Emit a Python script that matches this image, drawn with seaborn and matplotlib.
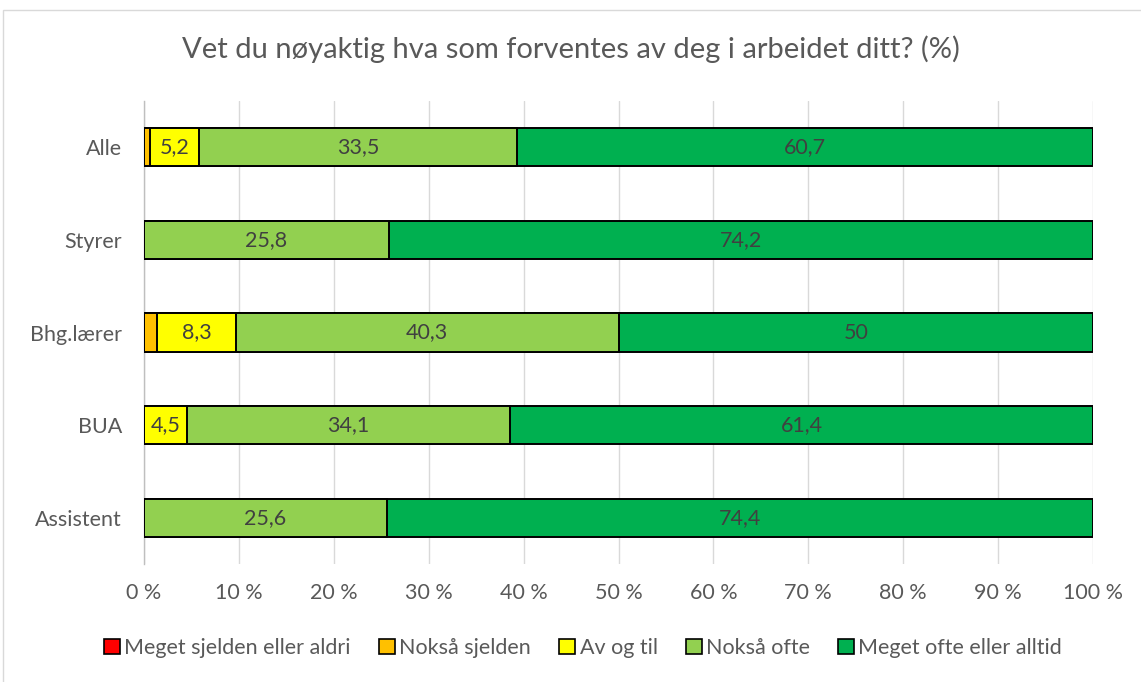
import matplotlib
matplotlib.use("Agg")
import matplotlib.pyplot as plt
import seaborn as sns
import pandas as pd
import numpy as np
from matplotlib.patches import Patch

categories = ["Alle", "Styrer", "Bhg.lærer", "BUA", "Assistent"]
series_names = ["Meget sjelden eller aldri", "Nokså sjelden", "Av og til", "Nokså ofte", "Meget ofte eller alltid"]
meget_sjelden = [0.0, 0.0, 0.0, 0.0, 0.0]
noksa_sjelden = [0.6, 0.0, 1.4, 0.0, 0.0]
av_og_til = [5.2, 0.0, 8.3, 4.5, 0.0]
noksa_ofte = [33.5, 25.8, 40.3, 34.1, 25.6]
meget_ofte = [60.7, 74.2, 50.0, 61.4, 74.4]
label_series = [False, False, True, True, True]
colors = ["#FF0000", "#FFC000", "#FFFF00", "#92D050", "#00B050"]

series = [meget_sjelden, noksa_sjelden, av_og_til, noksa_ofte, meget_ofte]

sns.set_theme(style="white")
plt.rcParams['font.family'] = ['Lato', 'DejaVu Sans']

fig = plt.figure(figsize=(11.41, 6.82), dpi=100)
ax = fig.add_axes([0.1262, 0.1723, 0.8318, 0.6803])

vals = np.array(series)  # shape (5 series, 5 cats)
cum = np.cumsum(vals, axis=0)

# draw from largest cumulative to smallest so boundaries show
for i in range(len(series) - 1, -1, -1):
    df = pd.DataFrame({"cat": categories, "val": cum[i]})
    sns.barplot(data=df, y="cat", x="val", order=categories, color=colors[i],
                width=0.41, edgecolor="black", linewidth=1.4, ax=ax, saturation=1,
                zorder=3)

# labels
for i, s in enumerate(series):
    if not label_series[i]:
        continue
    for j, v in enumerate(s):
        if v <= 0:
            continue
        left = cum[i][j] - v
        txt = f"{v:g}".replace(".", ",")
        ax.text(left + v / 2, j, txt, ha="center", va="center",
                fontsize=15.5, color="#404040", zorder=5)

ax.set_xlim(0, 100)
ax.set_xticks(np.arange(0, 101, 10))
ax.set_xticklabels([f"{t} %" for t in range(0, 101, 10)], fontsize=15.5, color="#595959")
ax.tick_params(axis="y", labelsize=15.5, labelcolor="#595959", length=0, pad=16)
ax.tick_params(axis="x", length=0, pad=13)
ax.set_xlabel("")
ax.set_ylabel("")
ax.xaxis.grid(True, color="#D9D9D9", linewidth=1, zorder=0)
ax.set_axisbelow(True)
for sp in ["top", "right", "bottom"]:
    ax.spines[sp].set_visible(False)
ax.spines["left"].set_color("#BFBFBF")
ax.spines["left"].set_linewidth(1)

fig.text(0.5, 0.928, "Vet du nøyaktig hva som forventes av deg i arbeidet ditt? (%)",
         ha="center", va="center", fontsize=21, color="#595959")

handles = [Patch(facecolor=c, edgecolor="black", linewidth=1.2) for c in colors]
fig.legend(handles, series_names, loc="center", bbox_to_anchor=(0.511, 0.05), ncol=5,
           frameon=False, fontsize=15.5, handlelength=0.75, handleheight=0.75,
           handletextpad=0.2, columnspacing=1.3, labelcolor="#595959")

# chart border
fig.patches.append(plt.Rectangle((0.003, -0.01), 1.2, 0.995, transform=fig.transFigure,
                                 fill=False, edgecolor="#D9D9D9", linewidth=1))

fig.savefig("out.png", dpi=100)
